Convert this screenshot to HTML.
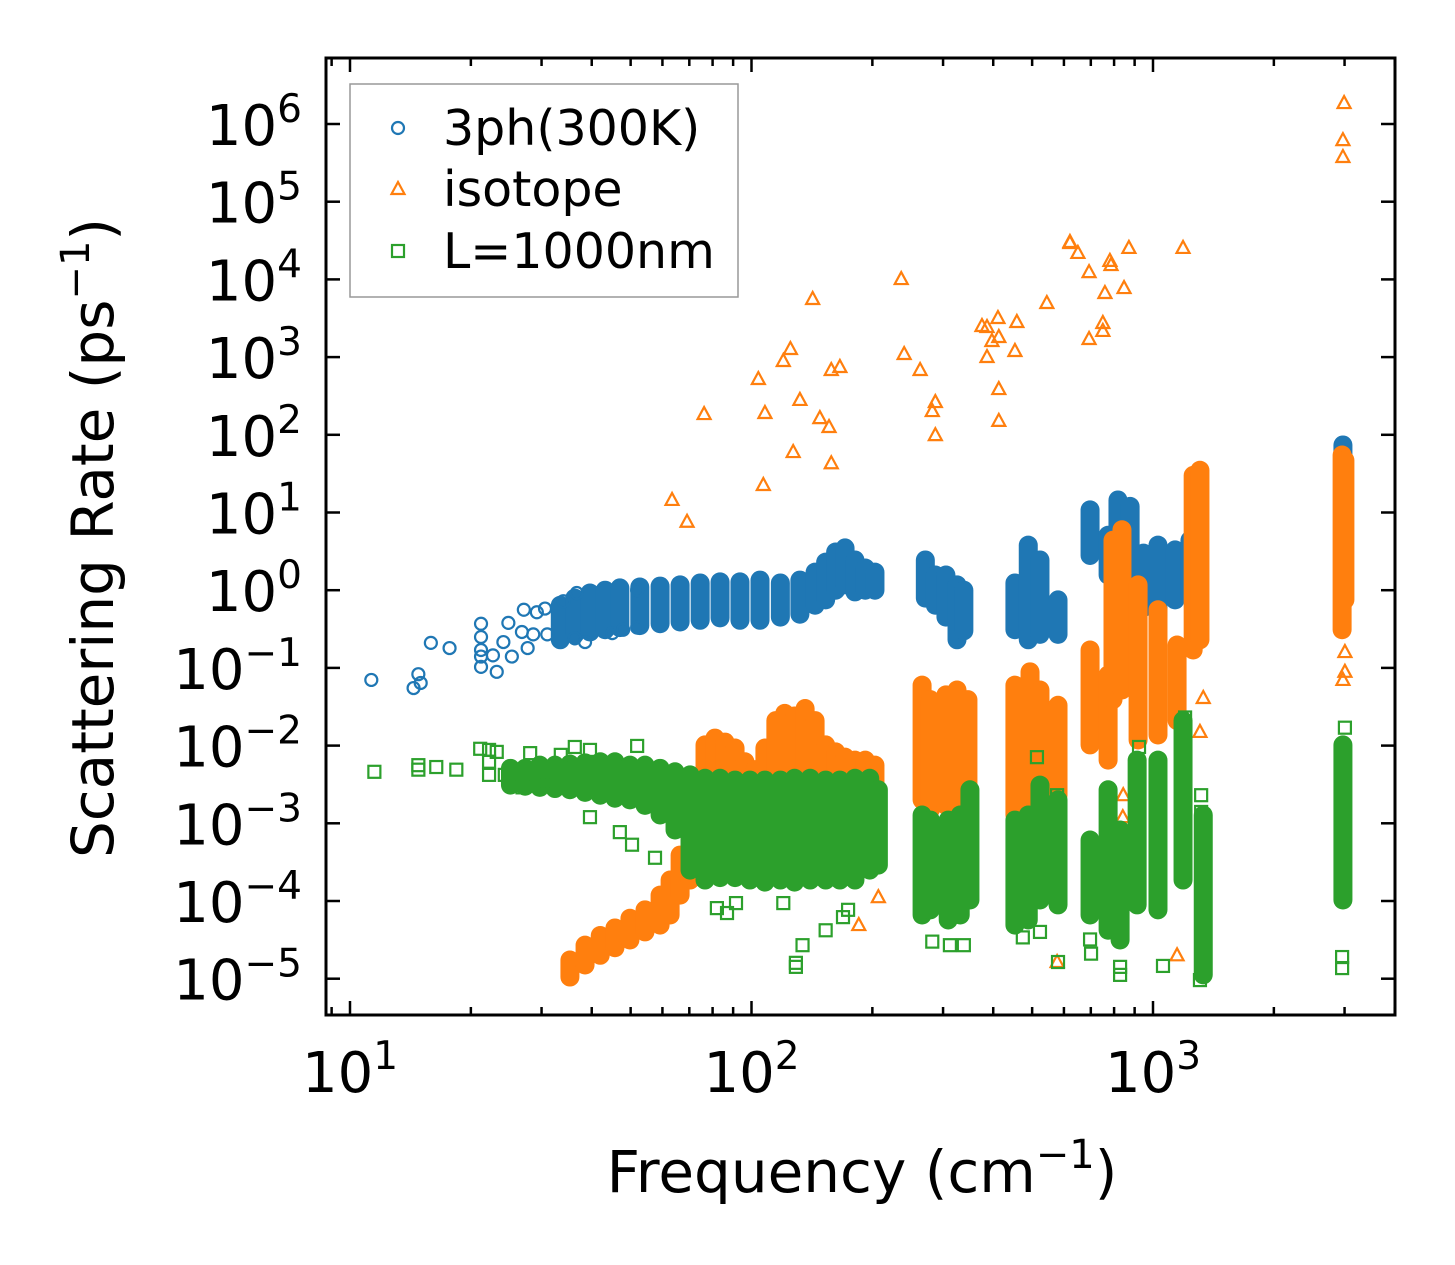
<!DOCTYPE html>
<html><head><meta charset="utf-8"><style>
html,body{margin:0;padding:0;background:#fff;}
svg{display:block;font-family:"DejaVu Sans","Liberation Sans",sans-serif;}
</style></head><body>
<svg id="chart" width="1455" height="1265" viewBox="0 0 1455 1265" xmlns="http://www.w3.org/2000/svg">
<defs><clipPath id="plotclip"><rect x="326" y="58" width="1069" height="957"/></clipPath></defs>
<rect x="0" y="0" width="1455" height="1265" fill="#fff"/>
<g id="marks" clip-path="url(#plotclip)"></g>
<g id="axes"></g>
<g id="legend"></g>
</svg>
<script>
// ---- data ----
const xTickValues = [10, 100, 1000];
const xTickExps = ["1", "2", "3"];
const yTickValues = [1e-5,1e-4,1e-3,1e-2,1e-1,1,10,100,1e3,1e4,1e5,1e6];
const yTickExps = ["\u22125","\u22124","\u22123","\u22122","\u22121","0","1","2","3","4","5","6"];
const seriesNames = ["3ph(300K)", "isotope", "L=1000nm"];

// 3ph scattered points [freq, rate]
const ph3Points = [[11.3,0.070],[14.4,0.055],[14.8,0.083],[15.0,0.064],[15.9,0.21],[17.7,0.18],[21.2,0.37],[21.2,0.25],[21.2,0.17],[21.2,0.14],[21.2,0.103],[22.7,0.145],[23.2,0.089],[24.8,0.38],[24.1,0.215],[25.3,0.14],[27.1,0.56],[26.8,0.29],[27.7,0.18],[29.2,0.52],[30.6,0.58],[28.6,0.27],[31.0,0.27],[34.0,0.72],[36.7,0.92],[38.5,0.215],[36.3,0.24],[45.0,0.28],[47.9,0.31],[51.9,0.33],[51.9,1.0]];
// 3ph dense bands [freq, low, high]
const ph3Bands = [[33.4,0.23,0.64],[36.3,0.27,0.79],[39.6,0.29,0.92],[43.2,0.31,1.0],[47.0,0.33,1.07],[52.7,0.35,1.10],[59.2,0.37,1.13],[66.4,0.39,1.17],[74.5,0.41,1.24],[83.5,0.44,1.28],[93.6,0.41,1.28],[105,0.41,1.35],[118,0.45,1.24],[132,0.49,1.35],[144,0.64,1.71],[153,0.75,2.3],[162,1.0,3.1],[171,1.17,3.5],[181,0.95,2.45],[192,1.0,1.93],[203,1.0,1.71],[271,0.79,2.45],[287,0.64,1.57],[305,0.45,1.57],[325,0.23,1.17],[338,0.30,1.0],[453,0.31,1.24],[489,0.23,3.8],[523,0.27,2.45],[580,0.27,0.75],[697,2.8,10.8],[773,1.57,5.1],[818,1.0,14.5],[877,0.56,12],[947,0.6,3.0],[1029,0.48,3.8],[1135,0.75,3.3],[1236,0.87,4.4],[2972,2.45,74]];

// isotope scattered points
const isoPoints = [[63.4,14.5],[69.1,7.6],[76.2,185],[104,522],[108,191],[107,22.6],[120,891],[125,1271],[132,281],[127,60],[142,5600],[148,164],[156,126],[158,682],[166,746],[158,43],[236,10100],[240,1096],[263,682],[287,264],[282,202],[287,99],[375,2512],[386,2440],[411,3184],[458,2830],[413,1815],[397,1611],[386,1002],[453,1199],[413,388],[413,151],[544,4966],[621,30300],[621,29400],[650,21900],[693,12400],[781,17300],[786,15300],[871,25400],[759,6680],[847,7740],[750,2750],[750,2170],[693,1710],[1188,25400],[2992,1.86e6],[2972,6.2e5],[2972,3.76e5],[207,1.12e-4],[185,4.9e-5],[1148,2.0e-5],[1309,0.015],[1334,0.041],[841,1.2e-3],[843,2.3e-3],[577,1.64e-5],[3006,0.16],[3006,0.089],[2972,0.07]];
const isoBands = [[35.3,1.05e-5,1.74e-5],[38.5,1.5e-5,2.7e-5],[42.0,2.0e-5,3.6e-5],[45.7,2.5e-5,4.5e-5],[49.8,3.15e-5,6.0e-5],[54.3,4.0e-5,7.7e-5],[59.2,4.9e-5,1.19e-4],[62.7,6.6e-5,1.86e-4],[66.4,1.19e-4,3.9e-4],[70.3,1.86e-4,8.2e-4],[74.5,2.5e-4,2.7e-3],[76.6,4.5e-4,0.0102],[81.1,6.1e-4,0.0125],[85.9,8.2e-4,0.0111],[91.0,8.2e-4,0.0093],[96.3,8.2e-4,0.0062],[102,8.2e-4,0.0049],[108,8.2e-4,0.0093],[115,8.2e-4,0.021],[121,8.2e-4,0.026],[128,8.2e-4,0.024],[136,8.2e-4,0.030],[144,8.2e-4,0.021],[153,8.2e-4,0.0102],[162,8.2e-4,0.0083],[171,8.2e-4,0.0071],[181,8.2e-4,0.0065],[192,8.2e-4,0.0065],[203,6.1e-4,0.0056],[266,0.0020,0.060],[279,0.0015,0.039],[305,0.0017,0.045],[325,0.0017,0.052],[346,0.0020,0.039],[453,0.00128,0.060],[494,0.0015,0.089],[523,0.0020,0.052],[580,0.0023,0.033],[697,0.0102,0.17],[773,0.0065,0.081],[795,0.039,4.4],[837,0.052,6.0],[918,0.0118,1.17],[1029,0.0137,0.56],[1148,0.021,0.197],[1259,0.17,30],[1309,0.23,35],[2958,0.31,55],[3006,0.75,47]];

// boundary (L=1000nm) scattered points
const bndPoints = [[11.5,0.0046],[14.8,0.0056],[14.8,0.0049],[16.4,0.0053],[18.4,0.0049],[22.2,0.0088],[22.2,0.0062],[22.2,0.0042],[21.1,0.0091],[23.2,0.0083],[24.3,0.0042],[28.1,0.0080],[33.5,0.0076],[36.3,0.0096],[39.6,0.0088],[51.9,0.0099],[26.9,0.0029],[30.6,0.0033],[39.6,0.0012],[47.0,7.7e-4],[50.4,5.3e-4],[57.5,3.6e-4],[82.0,8.1e-5],[86.9,7.0e-5],[91.5,9.4e-5],[120,9.4e-5],[153,4.2e-5],[134,2.7e-5],[129,1.6e-5],[129,1.42e-5],[169,6.2e-5],[174,7.7e-5],[282,3.0e-5],[312,2.7e-5],[338,2.7e-5],[580,1.64e-5],[474,3.4e-5],[523,4.0e-5],[701,2.1e-5],[697,3.2e-5],[828,1.42e-5],[828,1.12e-5],[1059,1.46e-5],[1309,9.6e-6],[1318,0.0023],[1318,0.0014],[1202,0.023],[1181,0.0154],[923,0.0096],[514,0.0071],[577,0.0023],[3006,0.017],[2958,1.9e-5],[2958,1.37e-5]];
const bndBands = [[25.1,0.0031,0.0051],[27.3,0.0030,0.0051],[29.7,0.0029,0.0056],[32.4,0.0028,0.0056],[35.3,0.0027,0.0058],[38.5,0.0025,0.0060],[42.0,0.0023,0.0062],[45.7,0.0021,0.0062],[49.8,0.0020,0.0056],[54.3,0.0017,0.0056],[59.2,0.00128,0.0051],[64.5,8.2e-4,0.0046],[70.3,2.5e-4,0.0042],[76.6,1.86e-4,0.0038],[83.5,2.0e-4,0.0038],[91.0,2.0e-4,0.0036],[99.1,1.86e-4,0.0036],[108,1.75e-4,0.0036],[118,1.86e-4,0.0036],[128,1.75e-4,0.0038],[140,1.86e-4,0.0038],[153,1.86e-4,0.0036],[166,1.86e-4,0.0036],[181,1.86e-4,0.0038],[197,2.5e-4,0.0038],[207,2.9e-4,0.0027],[266,6.6e-5,0.00128],[279,7.7e-5,0.0011],[309,5.7e-5,0.0011],[331,6.6e-5,0.00128],[350,1.03e-4,0.0027],[453,4.9e-5,0.0011],[489,5.7e-5,0.00128],[523,1.03e-4,0.0031],[580,8.9e-5,0.0020],[697,6.6e-5,6.1e-4],[773,4.2e-5,0.0027],[828,3.15e-5,8.2e-4],[913,8.9e-5,0.0065],[1029,7.7e-5,0.0065],[1188,1.86e-4,0.021],[1334,1.12e-5,0.00128],[2972,1.03e-4,0.0102]];

// ---- axes ----
const NS = "http://www.w3.org/2000/svg";
const PL = 326, PR = 1395, PT = 58, PB = 1015;
function xs(f){ return 350 + (Math.log10(f) - 1) * 401.5; }
function ys(r){ return 124 + (6 - Math.log10(r)) * 77.7; }
function mk(tag, attrs, parent){ const e = document.createElementNS(NS, tag); for (const k in attrs) e.setAttribute(k, attrs[k]); parent.appendChild(e); return e; }
const C_BLUE = "#1f77b4", C_ORANGE = "#ff7f0e", C_GREEN = "#2ca02c";
const marks = document.getElementById("marks");
const axes = document.getElementById("axes");
const legend = document.getElementById("legend");

function drawBands(bands, color, name){
  const g = mk("g", {}, marks);
  
  
  bands.forEach(b => {
    const l = mk("line", {x1: xs(b[0]), x2: xs(b[0]), y1: ys(b[1]), y2: ys(b[2]), stroke: color, "stroke-width": 19, "stroke-linecap": "round"}, g);
    
    
  });
}
function circle(g, x, y, color){ return mk("circle", {cx: x, cy: y, r: 6, fill: "none", stroke: color, "stroke-width": 2.2}, g); }
function tri(g, x, y, color){ return mk("polygon", {points: `${x},${y-7} ${x-6.5},${y+5} ${x+6.5},${y+5}`, fill: "none", stroke: color, "stroke-width": 2.2}, g); }
function sq(g, x, y, color){ return mk("rect", {x: x-6, y: y-6, width: 12, height: 12, fill: "none", stroke: color, "stroke-width": 2.2}, g); }
function drawPoints(points, color, shape, name){
  const g = mk("g", {}, marks);
  
  
  points.forEach(p => {
    const e = shape(g, xs(p[0]), ys(p[1]), color);
    
    
  });
}
drawBands(ph3Bands, C_BLUE, "3ph");
drawPoints(ph3Points, C_BLUE, circle, "3ph");
drawBands(isoBands, C_ORANGE, "isotope");
drawPoints(isoPoints, C_ORANGE, tri, "isotope");
drawBands(bndBands, C_GREEN, "boundary");
drawPoints(bndPoints, C_GREEN, sq, "boundary");

// frame
const frame = mk("rect", {x: PL, y: PT, width: PR-PL, height: PB-PT, fill: "none", stroke: "#000", "stroke-width": 3}, axes);



// x ticks (major + minor), both bottom and top
for (let d = 0; d <= 3; d++) {
  for (let m = 1; m <= 9; m++) {
    const v = Math.pow(10, d) * m;
    const x = xs(v);
    if (x < PL || x > PR) continue;
    const len = m === 1 ? 14 : 8;
    const t1 = mk("line", {x1: x, x2: x, y1: PB, y2: PB-len, stroke: "#000", "stroke-width": 2.5}, axes);
    
    
    const t2 = mk("line", {x1: x, x2: x, y1: PT, y2: PT+len, stroke: "#000", "stroke-width": 2.5}, axes);
    
    
  }
}
xTickValues.forEach((v, i) => {
  const t = mk("text", {x: xs(v), y: 1092, "font-size": 56, "text-anchor": "middle", fill: "#000"}, axes);
  
  
  t.textContent = "10";
  const s = mk("tspan", {dy: -23, "font-size": 39}, t);
  s.textContent = xTickExps[i];
});
yTickValues.forEach((v, i) => {
  const y = ys(v);
  const t1 = mk("line", {x1: PL, x2: PL+14, y1: y, y2: y, stroke: "#000", "stroke-width": 2.5}, axes);
  
  
  const t2 = mk("line", {x1: PR, x2: PR-14, y1: y, y2: y, stroke: "#000", "stroke-width": 2.5}, axes);
  
  
  const t = mk("text", {x: 302, y: y + 21, "font-size": 56, "text-anchor": "end", fill: "#000"}, axes);
  
  
  const b = mk("tspan", {}, t); b.textContent = "10";
  const s = mk("tspan", {dy: -23, "font-size": 39}, t);
  s.textContent = yTickExps[i];
});
// axis titles
const xt = mk("text", {x: 862, y: 1192, "font-size": 58, "text-anchor": "middle", fill: "#000"}, axes);


xt.innerHTML = 'Frequency (cm<tspan dy="-24" font-size="40">\u22121</tspan><tspan dy="24">)</tspan>';
const yt = mk("text", {x: 0, y: 0, "font-size": 58, "text-anchor": "middle", fill: "#000", transform: "translate(113,538) rotate(-90)"}, axes);


yt.innerHTML = 'Scattering Rate (ps<tspan dy="-24" font-size="40">\u22121</tspan><tspan dy="24">)</tspan>';

// legend
const lb = mk("rect", {x: 350, y: 84, width: 388, height: 213, fill: "#fff", stroke: "#999", "stroke-width": 1.5}, legend);


const shapes = [circle, tri, sq], colors = [C_BLUE, C_ORANGE, C_GREEN], ly = [128, 189, 251];
seriesNames.forEach((n, i) => {
  const g = mk("g", {}, legend);
  
  
  shapes[i](g, 398, ly[i], colors[i]);
  const t = mk("text", {x: 443, y: ly[i] + 17, "font-size": 49, fill: "#000"}, g);
  t.textContent = n;
});
</script>
</body></html>
